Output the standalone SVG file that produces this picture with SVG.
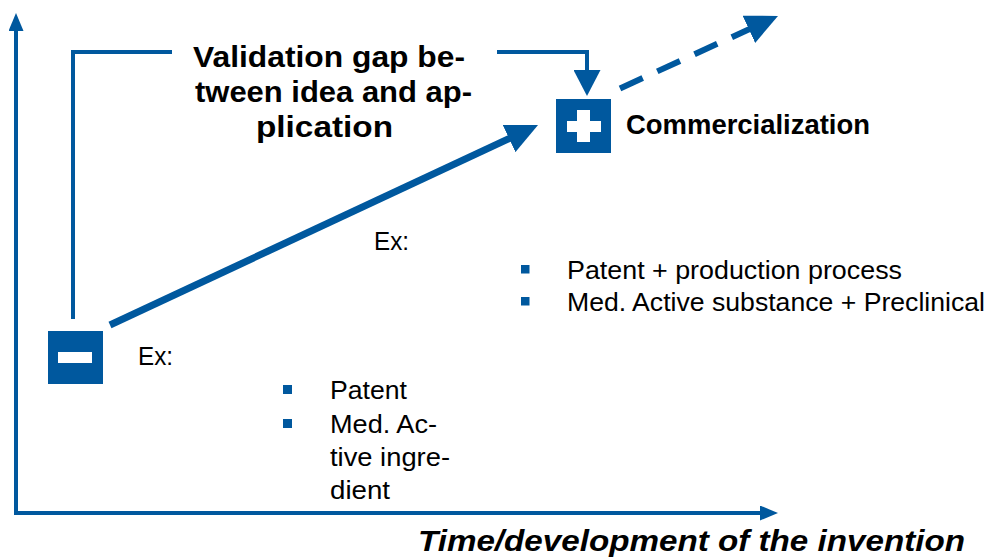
<svg xmlns="http://www.w3.org/2000/svg" width="987" height="560" viewBox="0 0 987 560">
  <style>
    .ln { fill: none; stroke: #00589E; stroke-linejoin: miter; }
    .axis { stroke-width: 4; }
    .br { stroke-width: 4; }
    .big { stroke-width: 7; }
    .dash { stroke-width: 6; stroke-dasharray: 25 16; }
    .box { fill: #00589E; }
    .wh { fill: #FFFFFF; }
    .bul { fill: #00589E; }
    .t { font-family: "Liberation Sans", Arial, sans-serif; fill: #000000; }
    .title { font-size: 29.5px; font-weight: bold; }
    .lbl { font-size: 27px; font-weight: bold; }
    .body { font-size: 26px; }
    .axt { font-size: 30px; font-weight: bold; font-style: italic; }
  </style>
  <defs>
    <marker id="axHead" markerUnits="userSpaceOnUse" markerWidth="18" markerHeight="15" viewBox="0 0 18 15" refX="12" refY="7.5" orient="auto">
      <path d="M0,0 L18,7.5 L0,15 Z" fill="#00589E"/>
    </marker>
    <marker id="brHead" markerUnits="userSpaceOnUse" markerWidth="26" markerHeight="27" viewBox="0 0 26 27" refX="20" refY="13.5" orient="auto">
      <path d="M0,0 L26,13.5 L0,27 Z" fill="#00589E"/>
    </marker>
    <marker id="bigHead" markerUnits="userSpaceOnUse" markerWidth="32" markerHeight="30" viewBox="0 0 32 30" refX="24" refY="15" orient="auto">
      <path d="M0,0 L32,15 L0,30 Z" fill="#00589E"/>
    </marker>
  </defs>

  <g id="axes">
    <line class="ln axis" x1="16" y1="515" x2="16" y2="19" marker-end="url(#axHead)"/>
    <line class="ln axis" x1="14" y1="513" x2="772" y2="513" marker-end="url(#axHead)"/>
    <text class="t axt" x="418" y="551" textLength="547" lengthAdjust="spacingAndGlyphs">Time/development of the invention</text>
  </g>

  <g id="connectors">
    <path class="ln br" d="M73,319 V52 H172"/>
    <path class="ln br" d="M497,52 H587 V90" marker-end="url(#brHead)"/>
    <line class="ln big" x1="110" y1="325" x2="530.8" y2="128.4" marker-end="url(#bigHead)"/>
    <line class="ln dash" x1="620" y1="88.5" x2="770.7" y2="19.3" marker-end="url(#bigHead)"/>
  </g>

  <g id="gap-label">
    <text class="t title" x="193" y="67" textLength="272" lengthAdjust="spacingAndGlyphs">Validation gap be-</text>
    <text class="t title" x="195" y="102" textLength="277" lengthAdjust="spacingAndGlyphs">tween idea and ap-</text>
    <text class="t title" x="256" y="137" textLength="137" lengthAdjust="spacingAndGlyphs">plication</text>
  </g>

  <g id="node-minus">
    <rect class="box" x="48" y="331" width="55" height="53"/>
    <rect class="wh" x="58" y="352" width="34" height="11"/>
    <text class="t body" x="138" y="365" textLength="35" lengthAdjust="spacingAndGlyphs">Ex:</text>
    <rect class="bul" x="283" y="385" width="9" height="9"/>
    <rect class="bul" x="283" y="419" width="9" height="9"/>
    <text class="t body" x="330" y="399" textLength="77" lengthAdjust="spacingAndGlyphs">Patent</text>
    <text class="t body" x="330" y="433" textLength="107" lengthAdjust="spacingAndGlyphs">Med. Ac-</text>
    <text class="t body" x="330" y="466" textLength="120" lengthAdjust="spacingAndGlyphs">tive ingre-</text>
    <text class="t body" x="330" y="499" textLength="60" lengthAdjust="spacingAndGlyphs">dient</text>
  </g>

  <g id="node-plus">
    <rect class="box" x="556" y="99" width="55" height="54"/>
    <rect class="wh" x="577" y="110" width="13" height="32"/>
    <rect class="wh" x="567" y="121" width="34" height="11"/>
    <text class="t lbl" x="626" y="134" textLength="244" lengthAdjust="spacingAndGlyphs">Commercialization</text>
  </g>

  <g id="examples-mid">
    <text class="t body" x="374" y="250" textLength="35" lengthAdjust="spacingAndGlyphs">Ex:</text>
    <rect class="bul" x="521" y="265" width="8.5" height="8.5"/>
    <rect class="bul" x="521" y="297" width="8.5" height="8.5"/>
    <text class="t body" x="567" y="279" textLength="335" lengthAdjust="spacingAndGlyphs">Patent + production process</text>
    <text class="t body" x="567" y="311" textLength="418" lengthAdjust="spacingAndGlyphs">Med. Active substance + Preclinical</text>
  </g>
</svg>
